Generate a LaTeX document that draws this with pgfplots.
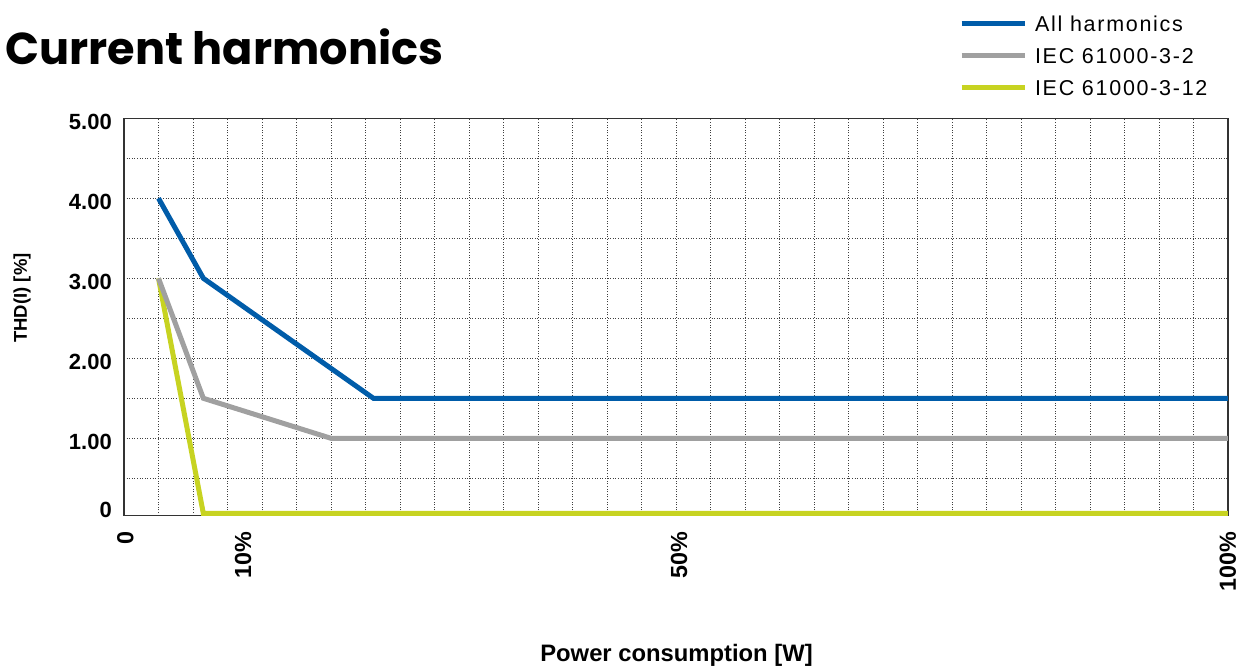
\documentclass[border=0pt]{standalone}
\usepackage{graphicx}
\usepackage{fontspec}
\setmainfont{Liberation Sans}
\newfontfamily\titlefont{Poppins}
\newfontfamily\legfont[LetterSpace=8]{Liberation Sans}
\usepackage{pgfplots}
\pgfplotsset{compat=1.18}
\definecolor{cblue}{RGB}{0,92,169}
\definecolor{cgray}{RGB}{160,160,160}
\definecolor{cyel}{RGB}{199,211,33}
\begin{document}
\begin{tikzpicture}[x=1pt,y=1pt]
\useasboundingbox (0,0) rectangle (1247,666);
\node[anchor=base west, inner sep=0pt] at (5,601) {\resizebox{438pt}{!}{\titlefont\bfseries Current harmonics}};
\node[anchor=base, inner sep=0pt] at (676.5,4.5) {\fontsize{23.8}{24}\selectfont\bfseries Power consumption [W]};
\node[rotate=90, inner sep=0pt] at (22,368) {\fontsize{18.5}{19}\selectfont\bfseries THD(I) [\%]};
\begin{axis}[
  at={(124pt,150.3pt)}, anchor=south west,
  scale only axis, width=1104pt, height=397.4pt,
  xmin=0, xmax=32, ymin=0.0325, ymax=5,
  axis line style={draw=black!80, line width=1.5pt},
  xtick={0.04,3.45,16.09,32},
  xticklabels={0,10\%,50\%,100\%},
  ytick={0.16,1,2,3,4,5},
  yticklabels={0,1.00,2.00,3.00,4.00,5.00},
  minor xtick={1,...,31},
  minor ytick={0.5,1,1.5,2,2.5,3,3.5,4,4.5},
  xminorgrids=true, yminorgrids=true,
  minor grid style={draw=black!75, line width=0.8pt, dash pattern=on 1pt off 1.6pt},
  major tick length=0pt, minor tick length=0pt,
  /pgf/number format/assume math mode=true,
  yticklabel style={font=\fontsize{22}{22}\selectfont\bfseries, anchor=east, inner sep=0pt, xshift=-12pt, yshift=-4pt},
  xticklabel style={font=\fontsize{23.3}{23.3}\selectfont\bfseries, yshift=-16pt, rotate=90, anchor=east, inner sep=0pt},
  reverse legend,
  legend cell align=left,
  legend style={at={(axis description cs:0.7564,1.2587)}, anchor=north west, draw=none, fill=none, inner sep=0pt,
    row sep=16.5pt, column sep=8pt, font=\legfont\fontsize{21.5}{21.5}\selectfont,
    nodes={inner sep=0pt, text height=15.5pt, text depth=0pt}},
  legend image code/.code={\draw[#1, line width=4.8pt] (0pt,0pt) -- (63pt,0pt);},
]
\addplot[cyel, line width=5pt] coordinates {(1,3) (2.3,0.06) (32,0.06)};
\addlegendentry{IEC 61000-3-12}
\addplot[cgray, line width=5pt] coordinates {(1,3) (2.3,1.5) (6,1.0) (32,1.0)};
\addlegendentry{IEC 61000-3-2}
\addplot[cblue, line width=5pt] coordinates {(1,4) (2.3,3) (7.23,1.5) (32,1.5)};
\addlegendentry{All harmonics}
\end{axis}
\end{tikzpicture}
\end{document}
